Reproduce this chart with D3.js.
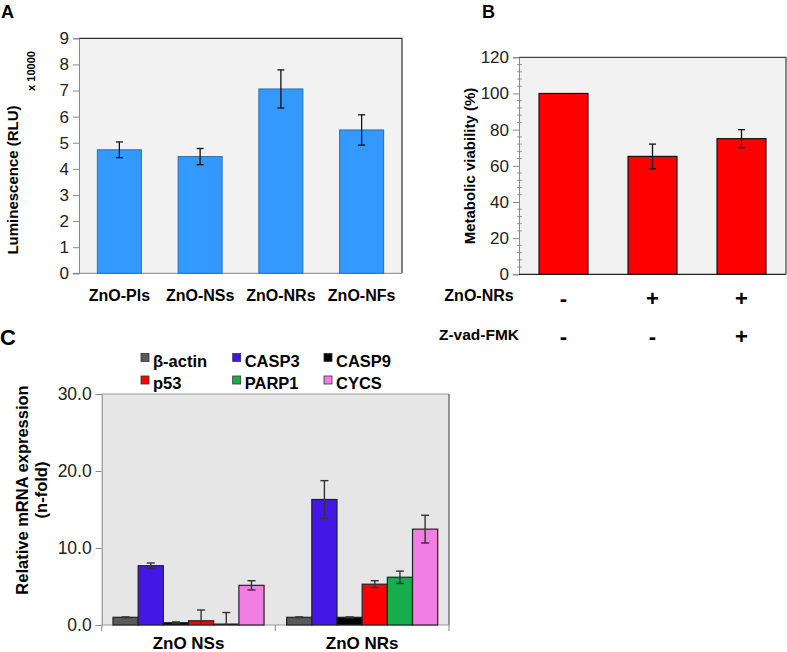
<!DOCTYPE html>
<html><head><meta charset="utf-8">
<script src="https://cdn.jsdelivr.net/npm/d3@7"></script>
<style>
body{margin:0;background:#fff;}
text{font-family:"Liberation Sans",Arial,sans-serif;}
</style></head>
<body><svg id="c" width="787" height="652"></svg>
<script>
// Panel A data
const catsA = ["ZnO-Pls","ZnO-NSs","ZnO-NRs","ZnO-NFs"];
const valsA = [4.73, 4.47, 7.06, 5.49];
const errA = [0.30, 0.31, 0.73, 0.58];
const ticksA = [0,1,2,3,4,5,6,7,8,9];
// Panel B data
const catsB = ["b1","b2","b3"];
const valsB = [100, 65.2, 75.0];
const errB = [0, 6.8, 5.0];
const znoRow = ["-","+","+"];
const zvadRow = ["-","-","+"];
const ticksB = [0,20,40,60,80,100,120];
// Panel C data
const groupsC = ["ZnO NSs","ZnO NRs"];
const seriesC = ["β-actin","CASP3","CASP9","p53","PARP1","CYCS"];
const colorsC = ["#595959","#4318e6","#000000","#ff0000","#17ad4c","#f07ee3"];
const valsC = [
  [1.0, 7.7, 0.3, 0.55, 0.12, 5.15],
  [1.0, 16.3, 1.0, 5.3, 6.2, 12.45]
];
const errC = [
  [0.05, 0.35, 0.1, 1.4, 1.5, 0.6],
  [0.05, 2.45, 0.05, 0.45, 0.8, 1.8]
];
const ticksC = [0,10,20,30];

const svg = d3.select("#c");
const F = "Liberation Sans, Arial, sans-serif";

// ---------- Panel A ----------
{
  const L=79,R=402,T=38.3,B=273.3;
  const y = d3.scaleLinear().domain([0,9]).range([B,T]);
  const x = d3.scaleBand().domain(catsA).range([L,R]).paddingInner(0.455).paddingOuter(0.2275);
  svg.append("rect").attr("x",L).attr("y",T).attr("width",R-L).attr("height",B-T).attr("fill","#f2f2f2");
  svg.append("path").attr("d",`M${L},${T}H${R}V${B}`).attr("fill","none").attr("stroke","#333").attr("stroke-width",1.2);
  const ax = svg.append("g").attr("transform",`translate(${L},0)`)
    .call(d3.axisLeft(y).tickValues(ticksA).tickSize(6).tickPadding(4).tickFormat(d3.format("d")));
  ax.select(".domain").attr("stroke","#888");
  ax.selectAll(".tick line").attr("stroke","#888");
  ax.selectAll("text").attr("font-size",17).attr("fill","#222").attr("font-family",F);
  svg.append("line").attr("x1",L-6).attr("x2",R).attr("y1",B).attr("y2",B).attr("stroke","#888");
  svg.selectAll(".barA").data(catsA).join("rect").attr("class","barA")
    .attr("x",d=>x(d)).attr("width",x.bandwidth())
    .attr("y",(d,i)=>y(valsA[i])).attr("height",(d,i)=>B-y(valsA[i]))
    .attr("fill","#3399ff").attr("stroke","#2a6db0").attr("stroke-width",1);
  const eg = svg.append("g").attr("stroke","#111").attr("stroke-width",1.3);
  catsA.forEach((c,i)=>{
    const cx = x(c)+x.bandwidth()/2, y1=y(valsA[i]+errA[i]), y2=y(valsA[i]-errA[i]);
    eg.append("line").attr("x1",cx).attr("x2",cx).attr("y1",y1).attr("y2",y2);
    eg.append("line").attr("x1",cx-3.5).attr("x2",cx+3.5).attr("y1",y1).attr("y2",y1);
    eg.append("line").attr("x1",cx-3.5).attr("x2",cx+3.5).attr("y1",y2).attr("y2",y2);
  });
  svg.selectAll(".xlA").data(catsA).join("text").attr("class","xlA")
    .attr("x",d=>x(d)+x.bandwidth()/2).attr("y",300.5).attr("text-anchor","middle")
    .attr("font-size",16).attr("font-weight","bold").text(d=>d);
  svg.append("text").attr("transform","translate(18,180) rotate(-90)").attr("text-anchor","middle")
    .attr("font-size",15).attr("font-weight","bold").text("Luminescence (RLU)");
  svg.append("text").attr("transform","translate(35,71) rotate(-90)").attr("text-anchor","middle")
    .attr("font-size",11).attr("font-weight","bold").text("x 10000");
  svg.append("text").attr("x",1).attr("y",18).attr("font-size",18).attr("font-weight","bold").text("A");
}

// ---------- Panel B ----------
{
  const L=519,R=786,T=57.3,B=274.3;
  const y = d3.scaleLinear().domain([0,120]).range([B,T]);
  const x = d3.scaleBand().domain(catsB).range([L,R]).paddingInner(0.45).paddingOuter(0.225);
  svg.append("rect").attr("x",L).attr("y",T).attr("width",R-L).attr("height",B-T).attr("fill","#f2f2f2");
  svg.append("path").attr("d",`M${L},${T}H${R}V${B}`).attr("fill","none").attr("stroke","#444").attr("stroke-width",1.2);
  // minor ticks
  const minor = d3.range(0,121,4).filter(v=>v%20!==0);
  svg.append("g").selectAll("line").data(minor).join("line")
    .attr("x1",L-2).attr("x2",L+3).attr("y1",d=>y(d)).attr("y2",d=>y(d)).attr("stroke","#999");
  const ax = svg.append("g").attr("transform",`translate(${L},0)`)
    .call(d3.axisLeft(y).tickValues(ticksB).tickSize(6).tickPadding(4));
  ax.select(".domain").attr("stroke","#888");
  ax.selectAll(".tick line").attr("stroke","#888");
  ax.selectAll("text").attr("font-size",17).attr("fill","#222").attr("font-family",F);
  svg.append("line").attr("x1",L).attr("x2",R).attr("y1",B).attr("y2",B).attr("stroke","#222").attr("stroke-width",1.2);
  svg.selectAll(".barB").data(catsB).join("rect").attr("class","barB")
    .attr("x",d=>x(d)).attr("width",x.bandwidth())
    .attr("y",(d,i)=>y(valsB[i])).attr("height",(d,i)=>B-y(valsB[i]))
    .attr("fill","#ff0000").attr("stroke","#111").attr("stroke-width",1.2);
  const eg = svg.append("g").attr("stroke","#111").attr("stroke-width",1.3);
  catsB.forEach((c,i)=>{
    if(!errB[i]) return;
    const cx = x(c)+x.bandwidth()/2, y1=y(valsB[i]+errB[i]), y2=y(valsB[i]-errB[i]);
    eg.append("line").attr("x1",cx).attr("x2",cx).attr("y1",y1).attr("y2",y2);
    eg.append("line").attr("x1",cx-3.5).attr("x2",cx+3.5).attr("y1",y1).attr("y2",y1);
    eg.append("line").attr("x1",cx-3.5).attr("x2",cx+3.5).attr("y1",y2).attr("y2",y2);
  });
  svg.append("text").attr("transform","translate(475,166) rotate(-90)").attr("text-anchor","middle")
    .attr("font-size",15).attr("font-weight","bold").text("Metabolic viability (%)");
  svg.append("text").attr("x",479).attr("y",301).attr("text-anchor","middle")
    .attr("font-size",16).attr("font-weight","bold").text("ZnO-NRs");
  svg.append("text").attr("x",479).attr("y",340).attr("text-anchor","middle")
    .attr("font-size",15.5).attr("font-weight","bold").text("Z-vad-FMK");
  svg.selectAll(".r1").data(catsB).join("text").attr("class","r1")
    .attr("x",d=>x(d)+x.bandwidth()/2).attr("y",306).attr("text-anchor","middle")
    .attr("font-size",22).attr("font-weight","bold").text((d,i)=>znoRow[i]);
  svg.selectAll(".r2").data(catsB).join("text").attr("class","r2")
    .attr("x",d=>x(d)+x.bandwidth()/2).attr("y",344).attr("text-anchor","middle")
    .attr("font-size",22).attr("font-weight","bold").text((d,i)=>zvadRow[i]);
  svg.append("text").attr("x",482).attr("y",18).attr("font-size",18).attr("font-weight","bold").text("B");
}

// ---------- Panel C ----------
{
  const L=101.7,R=449,T=394,B=625;
  const y = d3.scaleLinear().domain([0,30]).range([B,T]);
  const x0 = d3.scaleBand().domain(groupsC).range([L,R]).paddingInner(0.13).paddingOuter(0.065);
  const x1 = d3.scaleBand().domain(seriesC).range([0,x0.bandwidth()]).padding(0);
  svg.append("rect").attr("x",L).attr("y",T).attr("width",R-L).attr("height",B-T).attr("fill","#e6e6e6");
  svg.append("line").attr("x1",L).attr("x2",R).attr("y1",T).attr("y2",T).attr("stroke","#999").attr("stroke-width",1.2);
  svg.append("line").attr("x1",R).attr("x2",R).attr("y1",T).attr("y2",B).attr("stroke","#555").attr("stroke-width",1.2);
  const ax = svg.append("g").attr("transform",`translate(${L},0)`)
    .call(d3.axisLeft(y).tickValues(ticksC).tickSize(6).tickPadding(4).tickFormat(d3.format(".1f")));
  ax.select(".domain").attr("stroke","#888");
  ax.selectAll(".tick line").attr("stroke","#888");
  ax.selectAll("text").attr("font-size",17.5).attr("fill","#222").attr("font-family",F);
  const bx = svg.append("g").attr("stroke","#999").attr("stroke-width",1.2);
  bx.append("line").attr("x1",L).attr("x2",R).attr("y1",B).attr("y2",B);
  [L,(L+R)/2,R].forEach(v=>bx.append("line").attr("x1",v).attr("x2",v).attr("y1",B).attr("y2",B+6));
  groupsC.forEach((g,gi)=>{
    const gg = svg.append("g").attr("transform",`translate(${x0(g)},0)`);
    gg.selectAll("rect").data(seriesC).join("rect")
      .attr("x",d=>x1(d)).attr("width",x1.bandwidth())
      .attr("y",(d,i)=>y(valsC[gi][i])).attr("height",(d,i)=>B-y(valsC[gi][i]))
      .attr("fill",(d,i)=>colorsC[i]).attr("stroke","#222").attr("stroke-width",1.2);
    const eg = gg.append("g").attr("stroke","#333").attr("stroke-width",1.4);
    seriesC.forEach((s,i)=>{
      const cx = x1(s)+x1.bandwidth()/2, y1=y(valsC[gi][i]+errC[gi][i]), y2=Math.min(B,y(valsC[gi][i]-errC[gi][i]));
      eg.append("line").attr("x1",cx).attr("x2",cx).attr("y1",y1).attr("y2",y2);
      eg.append("line").attr("x1",cx-4).attr("x2",cx+4).attr("y1",y1).attr("y2",y1);
      if (y2 < B-0.5) eg.append("line").attr("x1",cx-4).attr("x2",cx+4).attr("y1",y2).attr("y2",y2);
    });
  });
  svg.selectAll(".xlC").data(groupsC).join("text").attr("class","xlC")
    .attr("x",d=>x0(d)+x0.bandwidth()/2).attr("y",649).attr("text-anchor","middle")
    .attr("font-size",17).attr("font-weight","bold").text(d=>d);
  const yt = svg.append("text").attr("transform","translate(28,490) rotate(-90)").attr("text-anchor","middle")
    .attr("font-size",16.5).attr("font-weight","bold");
  yt.append("tspan").attr("x",0).attr("dy",0).text("Relative mRNA expression");
  yt.append("tspan").attr("x",0).attr("dy",19).text("(n-fold)");
  // legend
  const lx = [141,232.7,324], ly = [361.5,384];
  seriesC.forEach((s,i)=>{
    const col = i%3, row = Math.floor(i/3);
    svg.append("rect").attr("x",lx[col]).attr("y",ly[row]-8).attr("width",8).attr("height",8)
      .attr("fill",colorsC[i]).attr("stroke","#333").attr("stroke-width",0.8);
    svg.append("text").attr("x",lx[col]+12).attr("y",ly[row]+5).attr("font-size",16.5).attr("font-weight","bold").text(s);
  });
  svg.append("text").attr("x",0).attr("y",345).attr("font-size",22).attr("font-weight","bold").text("C");
}
</script></body></html>
